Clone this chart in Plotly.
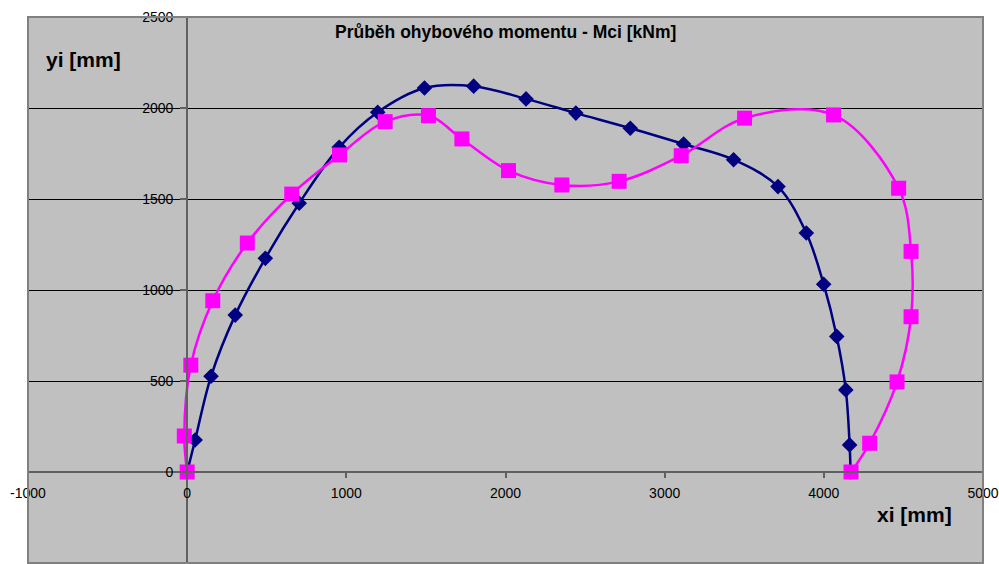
import plotly.graph_objects as go

# Bending-moment line Mci drawn in section coordinates (mm)
series1_x = [0, 50, 150, 302, 491, 704, 955, 1197, 1491, 1800, 2129, 2442, 2784, 3119, 3433, 3712, 3890, 3999, 4081, 4138, 4162, 4168]
series1_y = [0, 176, 526, 862, 1174, 1477, 1784, 1977, 2110, 2120, 2050, 1972, 1889, 1802, 1716, 1568, 1313, 1032, 745, 451, 149, 0]

series2_x = [0, -18, 23, 161, 378, 657, 957, 1244, 1516, 1726, 2019, 2354, 2714, 3104, 3502, 4061, 4470, 4548, 4548, 4460, 4288, 4171]
series2_y = [0, 198, 587, 941, 1258, 1527, 1742, 1925, 1958, 1830, 1656, 1577, 1597, 1738, 1944, 1962, 1559, 1212, 853, 495, 158, 0]

x_ticks = [-1000, 0, 1000, 2000, 3000, 4000, 5000]
y_ticks = [-500, 0, 500, 1000, 1500, 2000, 2500]

title_text = "Průběh ohybového momentu - Mci [kNm]"
x_label = "xi [mm]"
y_label = "yi [mm]"

FONT = "Liberation Sans, Arial, sans-serif"

fig = go.Figure()
fig.add_trace(go.Scatter(
    x=series1_x, y=series1_y, mode="lines+markers",
    line=dict(color="#000080", width=2.5, shape="spline", smoothing=1),
    marker=dict(symbol="diamond", size=12, color="#000080"),
    showlegend=False,
))
fig.add_trace(go.Scatter(
    x=series2_x, y=series2_y, mode="lines+markers",
    line=dict(color="#FF00FF", width=2.5, shape="spline", smoothing=1),
    marker=dict(symbol="square", size=15, color="#FF00FF"),
    showlegend=False,
))

fig.update_layout(
    width=999, height=564,
    margin=dict(l=28, r=16, t=17, b=1),
    paper_bgcolor="white",
    plot_bgcolor="#C0C0C0",
    font=dict(family=FONT, size=14, color="black"),
    xaxis=dict(
        range=[-1000, 5000], tickvals=x_ticks, ticktext=[str(v) for v in x_ticks],
        showgrid=False, zeroline=False,
        showline=True, linecolor="#606060", linewidth=2,
        anchor="free", position=1 / 6,
        ticks="outside", ticklen=5, tickcolor="#606060", tickwidth=1.5,
        ticklabelstandoff=3,
        tickfont=dict(family=FONT, size=14, color="black"),
    ),
    yaxis=dict(
        range=[-500, 2500], tickvals=y_ticks, ticktext=[str(v) for v in y_ticks],
        showgrid=True, gridcolor="#000000", gridwidth=1,
        zeroline=False,
        showline=True, linecolor="#606060", linewidth=2,
        anchor="free", position=1 / 6,
        ticks="outside", ticklen=6, tickcolor="#606060", tickwidth=1.5,
        ticklabelstandoff=4,
        tickfont=dict(family=FONT, size=14, color="black"),
    ),
    shapes=[dict(
        type="rect", xref="paper", yref="paper", x0=0, x1=1, y0=0, y1=1,
        line=dict(color="#808080", width=2), fillcolor="rgba(0,0,0,0)", layer="above",
    )],
    annotations=[
        dict(text=title_text, xref="paper", yref="paper", x=0.4995, y=0.9725,
             xanchor="center", yanchor="middle", showarrow=False,
             font=dict(family=FONT, size=17.5, color="black", weight="bold")),
        dict(text=y_label, xref="paper", yref="paper", x=0.0168, y=0.923,
             xanchor="left", yanchor="middle", showarrow=False,
             font=dict(family=FONT, size=21, color="black", weight="bold")),
        dict(text=x_label, xref="paper", yref="paper", x=0.9696, y=0.0888,
             xanchor="right", yanchor="middle", showarrow=False,
             font=dict(family=FONT, size=21, color="black", weight="bold")),
    ],
)

fig.write_html("out.html")
